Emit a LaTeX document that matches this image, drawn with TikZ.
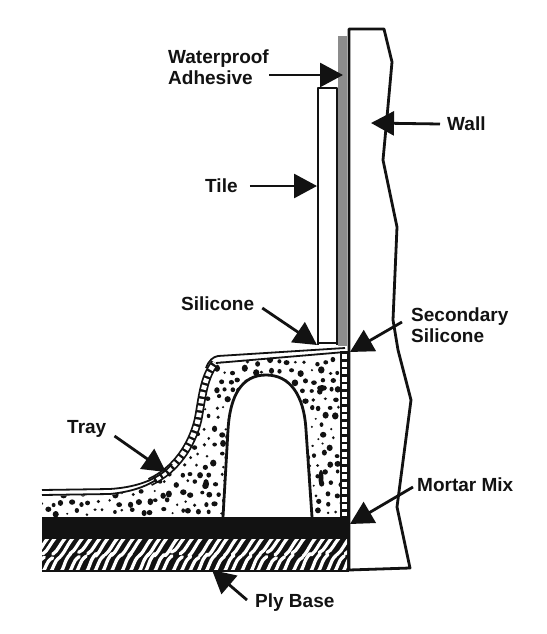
\documentclass[tikz,border=0pt]{standalone}
\usepackage{fontspec}
\setmainfont{Liberation Sans}
\usetikzlibrary{arrows.meta}
\definecolor{ink}{gray}{0.07}
\definecolor{adh}{gray}{0.55}
\tikzset{
  lab/.style={font=\fontsize{19}{21}\selectfont\bfseries, text=ink, inner sep=0pt, align=left, anchor=west},
  callout/.style={draw=ink, line width=2.8pt, -{Triangle[length=23pt,width=24pt]}},
  heavyline/.style={draw=ink, line width=2.8pt, line join=round},
  thinline/.style={draw=ink, line width=1.8pt, line join=round}
}
\begin{document}
\begin{tikzpicture}[x=1pt,y=-1pt]
\useasboundingbox (0,0) rectangle (546,634);
\fill[white] (0,0) rectangle (546,634);
% adhesive
\fill[adh] (338,36) rectangle (347,346);
% tile
\draw[thinline, line width=2.2pt] (318,345) -- (318,88) -- (337,88) -- (337,345);
\draw[thinline] (318,343) -- (337,343);
% mortar dots
\begin{scope}
\clip (42,496) -- (110,495) .. controls (150,491) and (182,472) .. (197,432) .. controls (203,405) and (205,378) .. (218,362) -- (340,352) -- (340,517) -- (312,517) -- (306,430) .. controls (304,395) and (290,374) .. (266,374) .. controls (242,374) and (230,395) .. (228,430) -- (223,517) -- (42,517) -- cycle;
\pgfmathsetseed{1234}
\foreach \j in {0,...,17}{
 \foreach \i in {0,...,31}{
  \pgfmathsetmacro{\px}{42+\i*9.6+mod(\j,2)*4.8+6*(rnd-0.5)}
  \pgfmathsetmacro{\py}{352+\j*9.4+6*(rnd-0.5)}
  \pgfmathsetmacro{\pr}{1.1+2.2*rnd}
  \pgfmathsetmacro{\qr}{\pr*(0.8+0.4*rnd)}
  \fill[ink] (\px,\py) ellipse[x radius=\pr pt, y radius=\qr pt];
 }
}
\foreach \a/\b/\c/\d in {206/484/3/5, 321/478/2.5/8, 241/390/5/3, 322/388/5/3}{
  \fill[ink] (\a,\b) ellipse[x radius=\c pt, y radius=\d pt];
}
\end{scope}
% tray strip along the curve and wall
\draw[ink, line width=8.5pt] (150,482) .. controls (176,470) and (192,445) .. (198,420) .. controls (202,400) and (203,378) .. (215,363);
\draw[white, line width=5pt, dash pattern=on 4.5pt off 2.5pt] (150,482) .. controls (176,470) and (192,445) .. (198,420) .. controls (202,400) and (203,378) .. (215,363);
\draw[ink, line width=8.5pt] (344,351) -- (344,517);
\draw[white, line width=5pt, dash pattern=on 5pt off 2.5pt] (344,354) -- (344,516);
% tray upper skin
\draw[thinline] (42,490) -- (110,489) .. controls (140,487) and (160,478) .. (172,464);
\draw[thinline] (42,495) -- (110,494) .. controls (130,492) and (145,487) .. (156,480);
\draw[thinline] (206,368) .. controls (209,360) and (213,357) .. (218,356) -- (345,348);
\draw[thinline] (216,363) -- (345,352);
% arch
\draw[heavyline] (223,517) -- (228,430) .. controls (230,395) and (242,375) .. (266,375) .. controls (290,375) and (304,395) .. (306,430) -- (312,517);
% ply base
\fill[ink] (42,537) rectangle (349,571);
\begin{scope}
\clip (42,539) rectangle (347,569);
\pgfmathsetseed{77}
\foreach \i in {0,...,36}{
  \pgfmathsetmacro{\xa}{34+\i*8.6+2.5*rnd}
  \pgfmathsetmacro{\xb}{34+\i*8.6+2.5*rnd}
  \pgfmathsetmacro{\da}{5*rnd}
  \pgfmathsetmacro{\db}{5*rnd}
  \draw[white, line width=3.3pt, line cap=round] (\xa,552+\da) .. controls (\xa+6,550) and (\xa+6,545) .. (\xa+15,535);
  \draw[white, line width=3.3pt, line cap=round] (\xb-3,574) .. controls (\xb+4,568) and (\xb+1,562) .. (\xb+9,553+\db);
}
\end{scope}
% mortar bed
\fill[ink] (42,517) rectangle (349,537);
% wall
\draw[heavyline] (349,570) -- (349,29) -- (384,29) -- (392,62) -- (387,117) -- (383,160) -- (397,227) -- (393,320) -- (398,350) -- (411,400) -- (397,507) -- (410,568) -- cycle;
\draw[thinline, line width=2.2pt] (42,571) -- (349,571);
% labels
\node[lab] (wa) at (168,67) {Waterproof\\Adhesive};
\node[lab] (wl) at (447,124) {Wall};
\node[lab] (ti) at (205,186) {Tile};
\node[lab] (si) at (181,304) {Silicone};
\node[lab] (ss) at (411,325) {Secondary\\Silicone};
\node[lab] (tr) at (67,429) {Tray};
\node[lab] (mm) at (417,485) {Mortar Mix};
\node[lab] (pb) at (255,603) {Ply Base};
% targets
\coordinate (twa) at (343,75);
\coordinate (twl) at (371,123);
\coordinate (tti) at (317,186);
\coordinate (tsi) at (317,345);
\coordinate (tss) at (350,352);
\coordinate (ttr) at (166,472);
\coordinate (tmm) at (350,524);
\coordinate (tpb) at (212,570);
\draw[callout] (wa.east |- twa) -- (twa);
\draw[callout] (wl.west) ++(-7,0) -- (twl);
\draw[callout] (ti.east) ++(12,0) -- (tti);
\draw[callout] (si.east) ++(8,4) -- (tsi);
\draw[callout] (ss.west) ++(-9,-3) -- (tss);
\draw[callout] (tr.east) ++(8,7) -- (ttr);
\draw[callout] (mm.west) ++(-4,2) -- (tmm);
\draw[callout] (pb.west) ++(-8,-3) -- (tpb);
\end{tikzpicture}
\end{document}
